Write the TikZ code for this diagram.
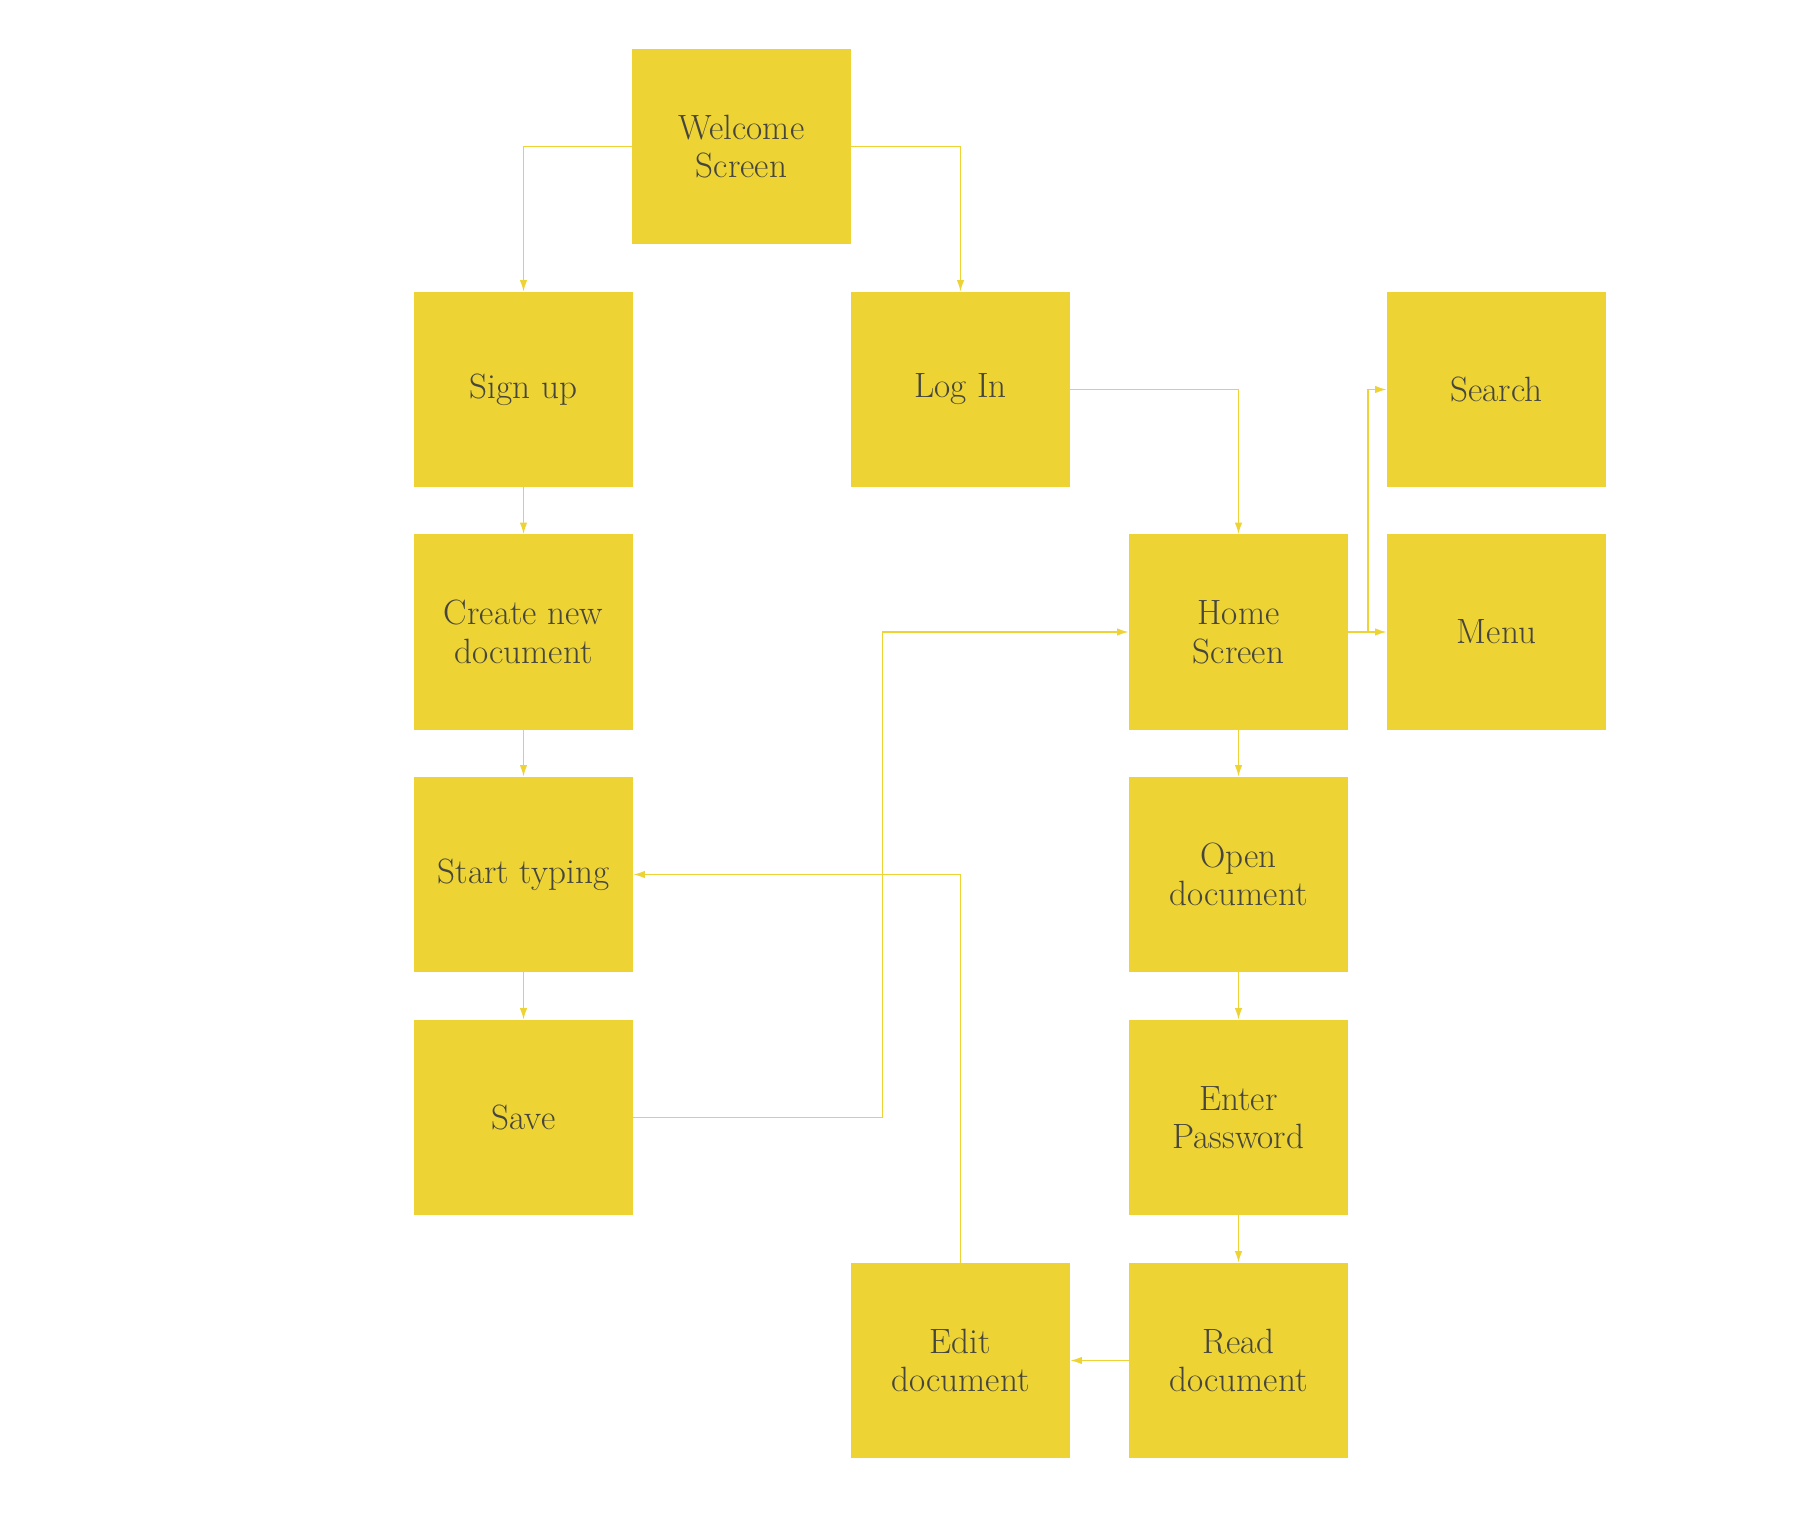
\documentclass[tikz,border=0pt]{standalone}
\usepackage{tikz}
\usetikzlibrary{arrows.meta}
\definecolor{boxyellow}{RGB}{237,211,52}
\definecolor{boxtext}{RGB}{70,70,62}
\pgfdeclarelayer{bg}
\pgfsetlayers{bg,main}
\tikzset{
    every node/.style={rectangle, inner sep=0mm, draw=none, fill=boxyellow,
        minimum width=4.38cm, minimum height=3.9cm, align=center,
        text=boxtext, font=\fontsize{20}{22}\selectfont}
}
\tikzset{link/.style={draw=boxyellow, line width=0.9pt, -{Latex[length=2.3mm,width=1.5mm]}}}

\begin{document}
\begin{tikzpicture}
    \useasboundingbox (0cm, 0cm) rectangle (35.96cm, -30.26cm);

    \node (welcome) at (14.83cm, -2.93cm) {Welcome\\Screen};
    \node (signup) at (10.47cm, -7.79cm) {Sign up};
    \node (login) at (19.21cm, -7.79cm) {Log In};
    \node (search) at (29.93cm, -7.79cm) {Search};

    \node (create) at (10.47cm, -12.64cm) {Create new\\document};
    \node (home) at (24.77cm, -12.64cm) {Home\\Screen};
    \node (menu) at (29.93cm, -12.64cm) {Menu};

    \node (typing) at (10.47cm, -17.49cm) {Start typing};
    \node (open) at (24.77cm, -17.49cm) {Open\\document};

    \node (save) at (10.47cm, -22.35cm) {Save};
    \node (password) at (24.77cm, -22.35cm) {Enter\\Password};

    \node (edit) at (19.21cm, -27.21cm) {Edit\\document};
    \node (read) at (24.77cm, -27.21cm) {Read\\document};

    \coordinate (j1) at (17.65cm, 0cm);
    \coordinate (j2) at (27.36cm, 0cm);

    \begin{pgfonlayer}{bg}
        \draw[link] (welcome) -| (signup);
        \draw[link] (welcome) -| (login);

        \draw[link] (signup) -- (create);
        \draw[link] (create) -- (typing);
        \draw[link] (typing) -- (save);
        \draw[link] (save.east) -- (save.east -| j1) |- (home.west);

        \draw[link] (login) -| (home);
        \draw[link] (home.east) -- (home.east -| j2) |- (search.west);
        \draw[link] (home) -- (menu);

        \draw[link] (home) -- (open);
        \draw[link] (open) -- (password);
        \draw[link] (password) -- (read);
        \draw[link] (read) -- (edit);
        \draw[link] (edit) |- (typing);
    \end{pgfonlayer}
\end{tikzpicture}
\end{document}
